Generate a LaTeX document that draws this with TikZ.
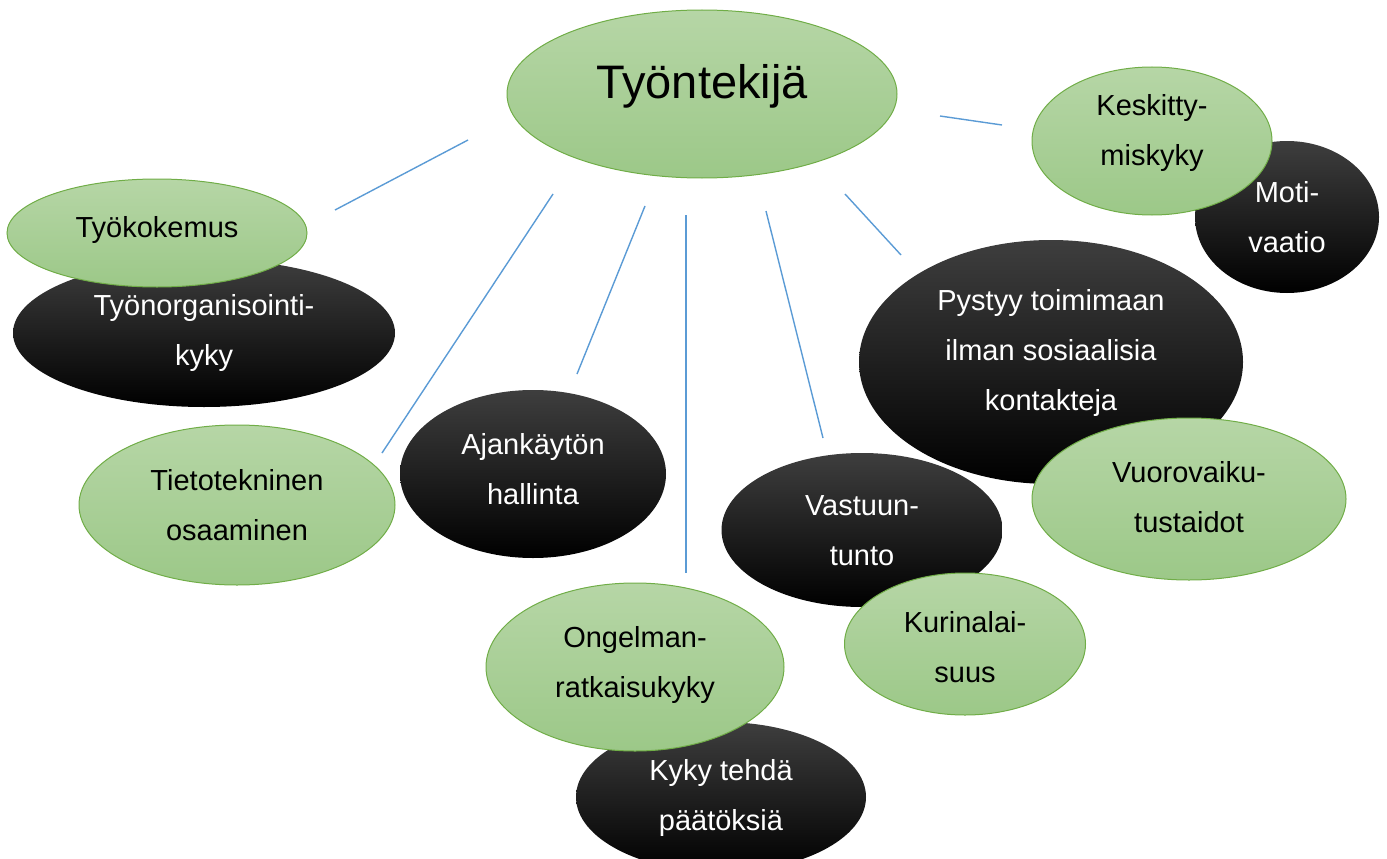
\documentclass[tikz,border=0pt]{standalone}
\usepackage{fontspec}
\setmainfont{Liberation Sans}
\usetikzlibrary{shapes.geometric}

\definecolor{ballTop}{RGB}{182,214,166}
\definecolor{ballBottom}{RGB}{156,200,136}
\definecolor{ballEdge}{RGB}{112,173,71}
\definecolor{darkTop}{RGB}{62,62,62}
\definecolor{spokeBlue}{RGB}{91,155,213}

\tikzset{
  greenball/.style={ellipse, draw=ballEdge, line width=1pt, top color=ballTop, bottom color=ballBottom,
    inner sep=0pt, align=center, text=black, text depth=0pt, font=\fontsize{29}{50}\selectfont},
  blackball/.style={ellipse, top color=darkTop, middle color=black, bottom color=black,
    inner sep=0pt, align=center, text=white, text depth=0pt, font=\fontsize{29}{50}\selectfont},
  spoke/.style={draw=spokeBlue, line width=1.4pt}
}

\begin{document}
\begin{tikzpicture}[x=1pt, y=-1pt]
        \useasboundingbox (0,0) rectangle (1387,859);
        \clip (0,0) rectangle (1387,859);

        % Black balls (lower layer)
        \node[blackball, minimum width=382, minimum height=148, text height=64pt] (organisointi) at (204,333) {Työnorganisointi-\\kyky};
        \node[blackball, minimum width=184, minimum height=152, text height=70pt] (motivaatio) at (1287,217) {Moti-\\vaatio};
        \node[blackball, minimum width=384, minimum height=244, text height=96pt] (pystyy) at (1051,362) {Pystyy toimimaan\\ilman sosiaalisia\\kontakteja};
        \node[blackball, minimum width=266, minimum height=168, text height=60pt] (ajankaytto) at (533,474) {Ajankäytön\\hallinta};
        \node[blackball, minimum width=281, minimum height=154, text height=70pt] (vastuu) at (862,530) {Vastuun-\\tunto};
        \node[blackball, minimum width=290, minimum height=150, text height=66pt] (paatokset) at (721,797) {Kyky tehdä\\päätöksiä};

        % Green balls (upper layer)
        \node[greenball, minimum width=390, minimum height=168, text height=10pt, font=\fontsize{47}{56}\selectfont] (tyontekija) at (702,94) {Työntekijä};
        \node[greenball, minimum width=300, minimum height=108, text height=8pt] (tyokokemus) at (157,233) {Työkokemus};
        \node[greenball, minimum width=240, minimum height=148, text height=48pt] (keskittyminen) at (1152,141) {Keskitty-\\miskyky};
        \node[greenball, minimum width=314, minimum height=162, text height=66pt] (vuorovaikutus) at (1189,499) {Vuorovaiku-\\tustaidot};
        \node[greenball, minimum width=316, minimum height=160, text height=70pt] (tietotekniikka) at (237,505) {Tietotekninen\\osaaminen};
        \node[greenball, minimum width=298, minimum height=168, text height=60pt] (ongelma) at (635,667) {Ongelman-\\ratkaisukyky};
        \node[greenball, minimum width=241, minimum height=142, text height=76pt] (kurinalaisuus) at (965,644) {Kurinalai-\\suus};

        % Spokes from the centre
        \coordinate (s1a) at (468,140); \coordinate (s1b) at (335,210);
        \coordinate (s2a) at (553,194); \coordinate (s2b) at (382,453);
        \coordinate (s3a) at (645,206); \coordinate (s3b) at (577,374);
        \coordinate (s4a) at (686,215); \coordinate (s4b) at (686,573);
        \coordinate (s5a) at (766,211); \coordinate (s5b) at (823,438);
        \coordinate (s6a) at (845,194); \coordinate (s6b) at (901,255);
        \coordinate (s7a) at (940,116); \coordinate (s7b) at (1002,125);
        \draw[spoke] (s1a) -- (s1b);
        \draw[spoke] (s2a) -- (s2b);
        \draw[spoke] (s3a) -- (s3b);
        \draw[spoke] (s4a) -- (s4b);
        \draw[spoke] (s5a) -- (s5b);
        \draw[spoke] (s6a) -- (s6b);
        \draw[spoke] (s7a) -- (s7b);
    \end{tikzpicture}
\end{document}
